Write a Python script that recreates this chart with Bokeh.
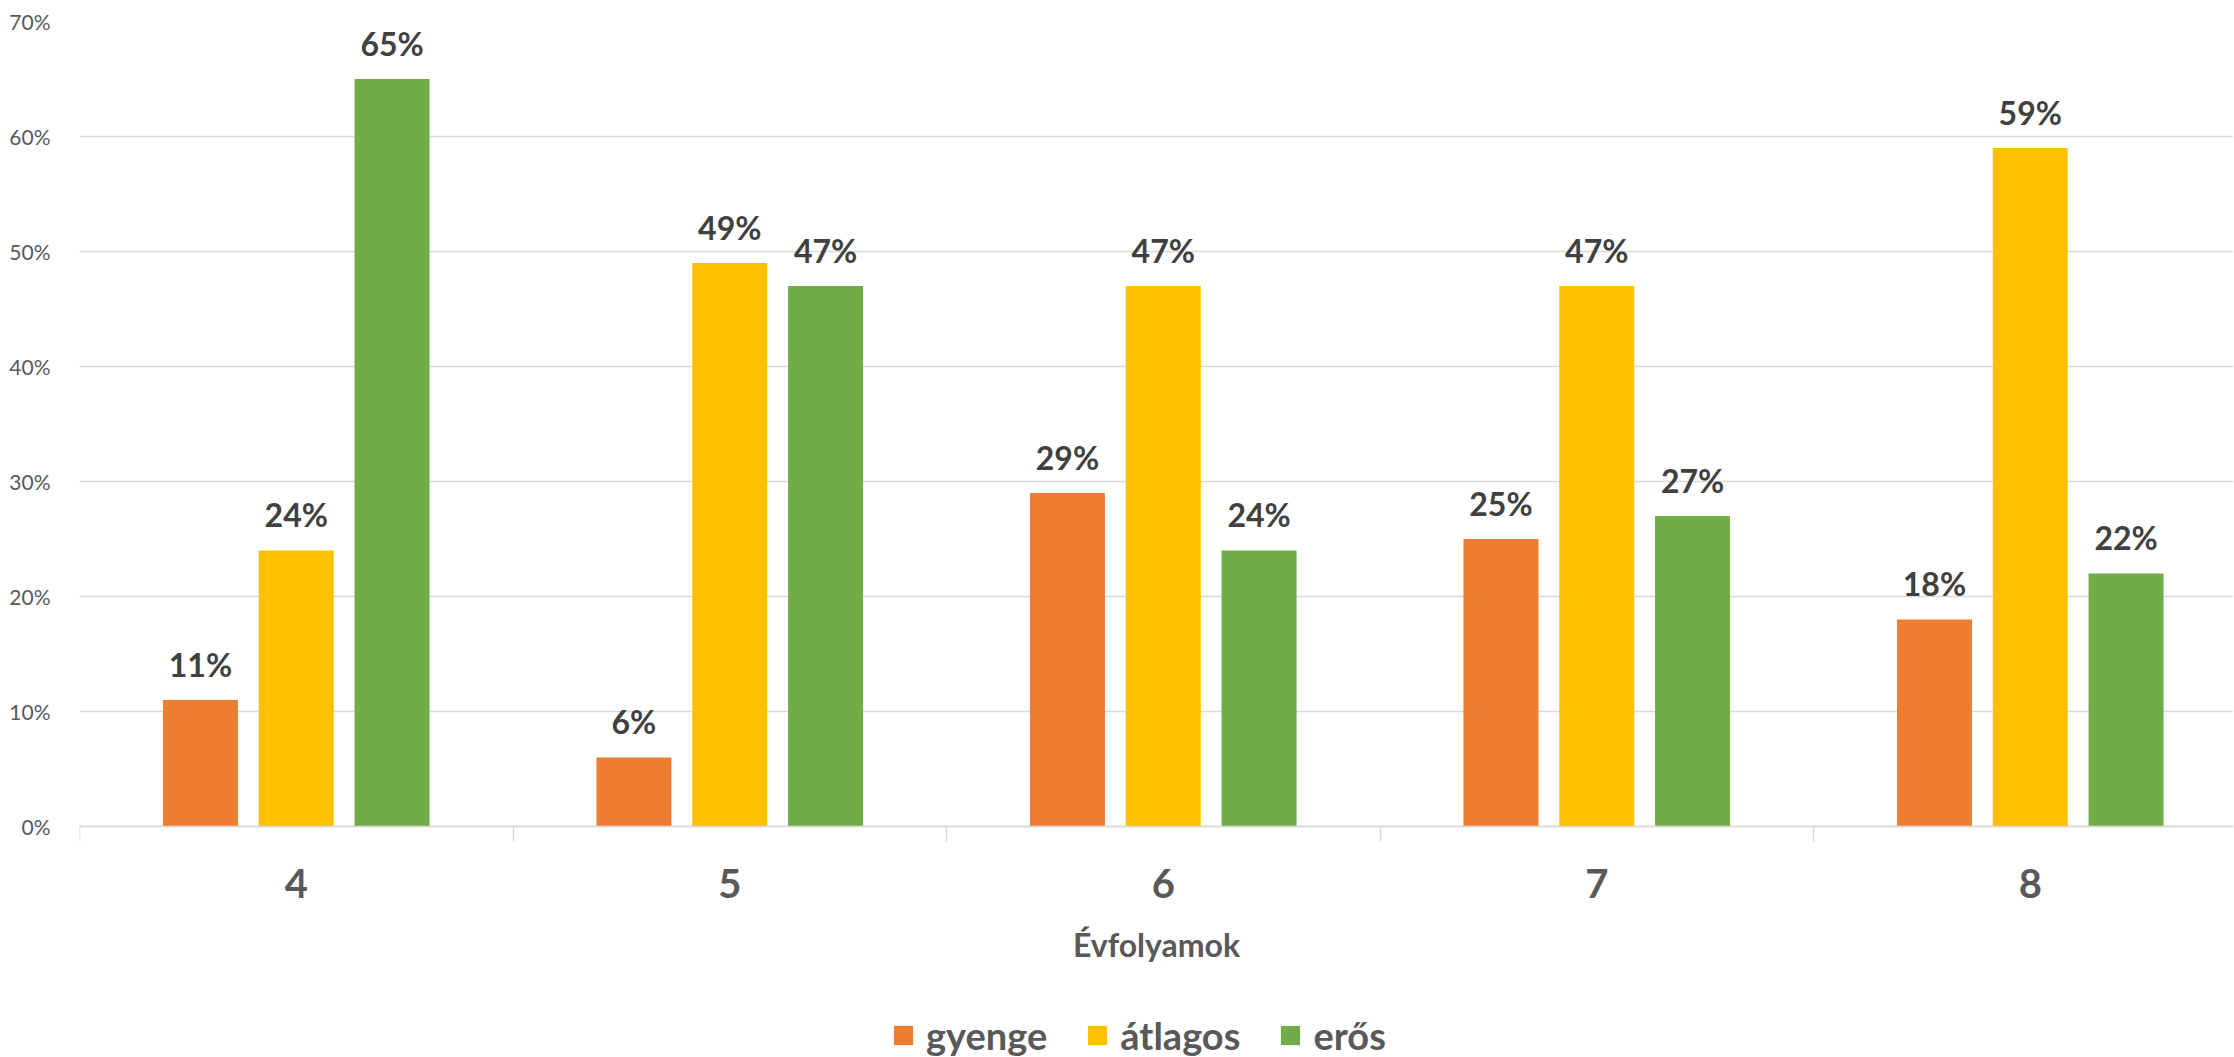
import numpy as np
from bokeh.plotting import figure
from bokeh.models import (Range1d, FixedTicker, PrintfTickFormatter, Legend, LegendItem,
                          ColumnDataSource)
from bokeh.core.properties import value
from bokeh.embed import file_html
from bokeh.resources import INLINE

# ---- data ----
categories = ["4", "5", "6", "7", "8"]
series_names = ["gyenge", "átlagos", "erős"]
gyenge = [11, 6, 29, 25, 18]
atlagos = [24, 49, 47, 47, 59]
eros = [65, 47, 24, 27, 22]
y_ticks = [0, 10, 20, 30, 40, 50, 60, 70]

colors = ["#ED7D31", "#FFC000", "#70AD47"]
FONT = "Lato"
AXIS_COLOR = "#595959"
LABEL_COLOR = "#404040"
GRID_COLOR = "#D9D9D9"

# layout (pixels)
W, H = 2234, 1057
LEFT, TOP, RIGHT = 79, 21, 1
ZERO_Y = 826                      # screen row of the 0% line
CAT_PX = 433.5                    # width of one category slot (the last one runs off the edge)
px_per_unit = (ZERO_Y - TOP) / max(y_ticks)
y_start = -(H - ZERO_Y) / px_per_unit   # room under the axis for labels and legend
x_end = (W - LEFT - RIGHT) / CAT_PX

p = figure(width=W, height=H, output_backend="svg", toolbar_location=None,
           x_range=Range1d(0, x_end), y_range=Range1d(y_start, max(y_ticks)),
           min_border_left=LEFT, min_border_right=RIGHT, min_border_top=TOP, min_border_bottom=0)
p.outline_line_color = None
p.background_fill_color = "white"

idx = np.arange(len(categories)) + 0.5
offsets = [-0.221, 0.0, 0.221]
bar_w = 0.173

renderers = []
for vals, off, col in zip([gyenge, atlagos, eros], offsets, colors):
    src = ColumnDataSource(dict(x=idx + off, top=vals, lbl=[f"{v}%" for v in vals]))
    r = p.vbar(x="x", top="top", bottom=0, width=bar_w, source=src, fill_color=col, line_color=None)
    renderers.append(r)
    p.text(x="x", y="top", text="lbl", source=src, text_align="center",
           text_baseline="alphabetic", y_offset=-36, text_font=value(FONT),
           text_font_style="bold", text_font_size="32px", text_color=LABEL_COLOR)

# ---- y axis ----
p.yaxis.ticker = FixedTicker(ticks=y_ticks)
p.yaxis.formatter = PrintfTickFormatter(format="%d%%")
p.yaxis.axis_line_color = None
p.yaxis.major_tick_line_color = None
p.yaxis.minor_tick_line_color = None
p.yaxis.major_label_standoff = 23
p.yaxis.major_label_text_font = FONT
p.yaxis.major_label_text_font_size = "21px"
p.yaxis.major_label_text_color = AXIS_COLOR
p.ygrid.ticker = FixedTicker(ticks=y_ticks)
p.ygrid.grid_line_color = GRID_COLOR
p.ygrid.grid_line_width = 1.5
p.xgrid.grid_line_color = None

# ---- x axis (pinned at 0%) ----
boundaries = list(range(len(categories) + 1))
xax = p.xaxis[0]
xax.fixed_location = 0
xax.ticker = FixedTicker(ticks=list(idx), minor_ticks=boundaries)
xax.major_label_overrides = {float(c): lab for c, lab in zip(idx, categories)}
xax.axis_line_color = GRID_COLOR
xax.axis_line_width = 1.5
xax.major_tick_line_color = None
xax.major_tick_out = 0
xax.major_tick_in = 0
xax.minor_tick_line_color = GRID_COLOR
xax.minor_tick_line_width = 1.5
xax.minor_tick_out = 15
xax.minor_tick_in = 0
xax.major_label_standoff = 27
xax.major_label_text_font = FONT
xax.major_label_text_font_style = "bold"
xax.major_label_text_font_size = "40px"
xax.major_label_text_color = AXIS_COLOR
xax.axis_label = "Évfolyamok"
xax.axis_label_standoff = 24
xax.axis_label_text_font = FONT
xax.axis_label_text_font_style = "bold"
xax.axis_label_text_font_size = "32px"
xax.axis_label_text_color = AXIS_COLOR

# ---- legend ----
legend = Legend(items=[LegendItem(label=n, renderers=[r]) for n, r in zip(series_names, renderers)],
                orientation="horizontal", location=(812, -1),
                glyph_width=24, glyph_height=24, label_height=24, label_standoff=11,
                spacing=38, padding=0, margin=0,
                label_text_font=FONT, label_text_font_style="bold",
                label_text_font_size="38px", label_text_color=AXIS_COLOR,
                border_line_color=None, background_fill_alpha=0)
p.add_layout(legend, "center")

open("out.html", "w").write(file_html(p, INLINE))
